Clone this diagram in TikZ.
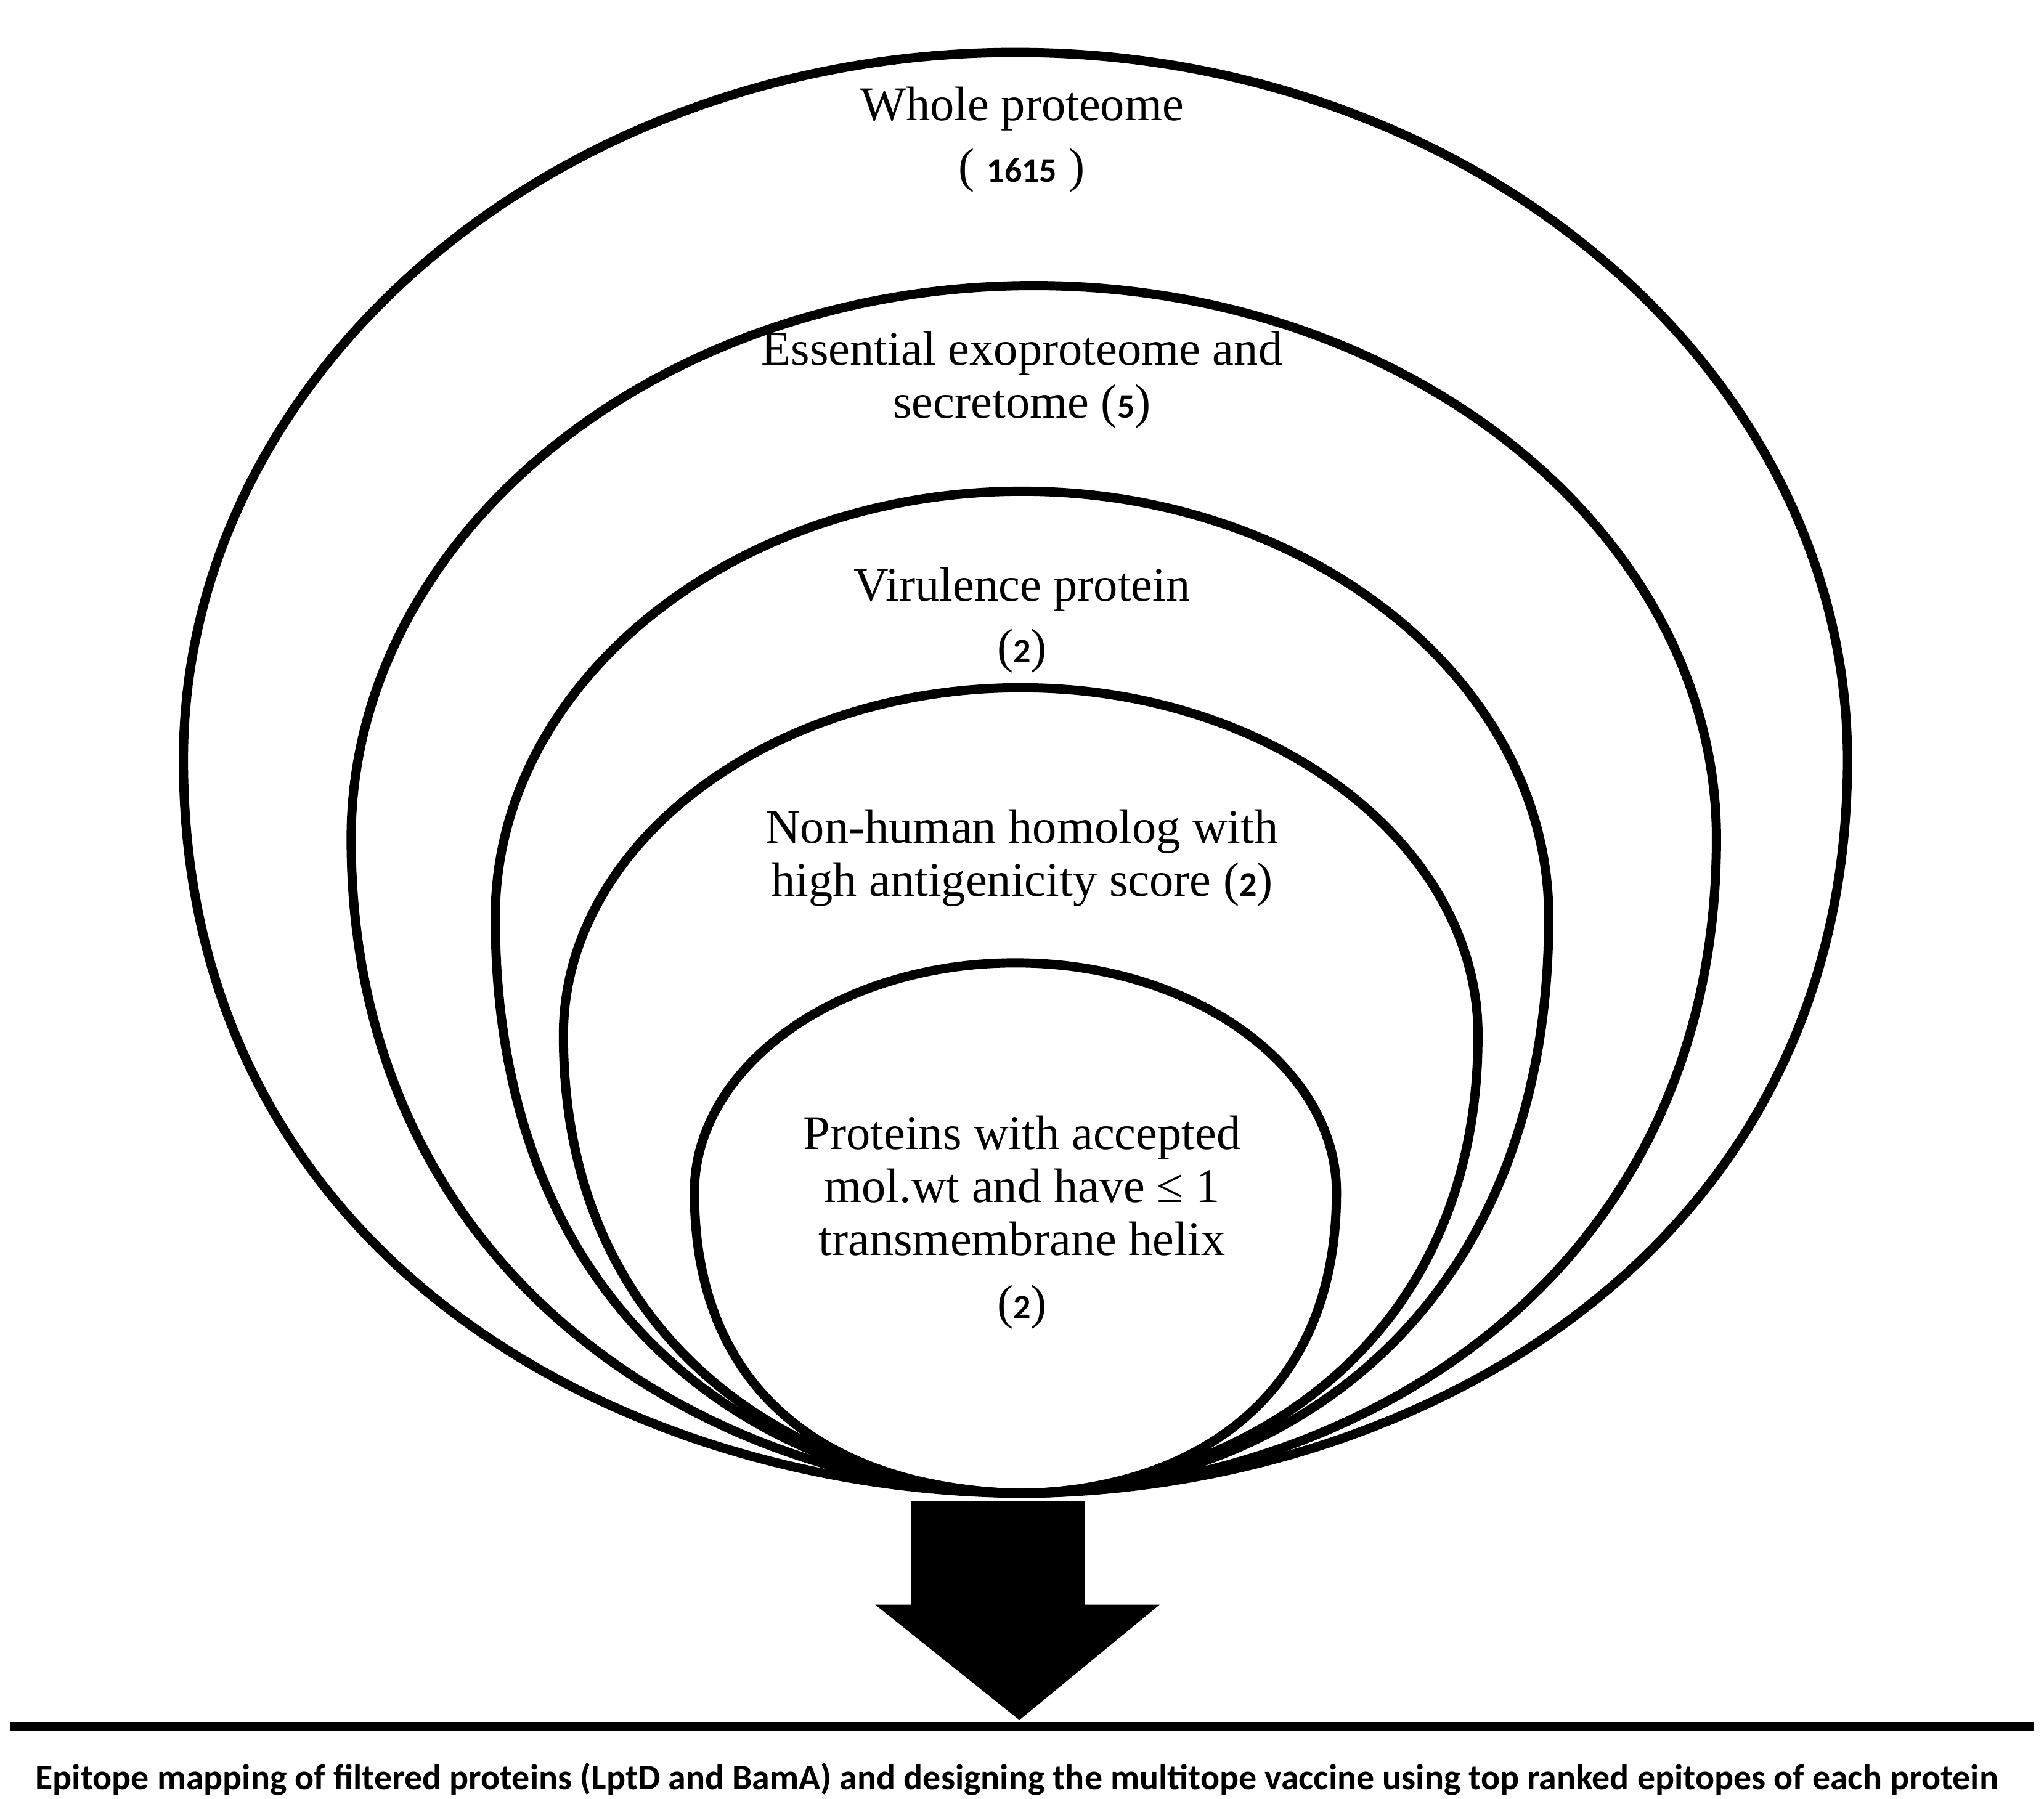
\documentclass[tikz,border=0pt]{standalone}
\usepackage{fontspec}
\setmainfont{Liberation Serif}
\newfontfamily\carlitofont{Carlito}
\begin{document}
\begin{tikzpicture}[x=0.02cm,y=-0.02cm,
  ring/.style={line width=4pt},
  lbl/.style={font=\fontsize{21}{23}\selectfont, align=center}]
\useasboundingbox (0,0) rectangle (1560,1373);
\fill[white] (0,0) rectangle (1560,1373);
\newcommand{\myegg}[6]{%
  \draw[ring] (780,1140) .. controls (#1-#6,1138) and (#1-#2,#5) .. (#1-#2,#4)
    .. controls (#1-#2,{#4-0.55*(#4-#3)}) and ({#1-0.55*#2},#3) .. (#1,#3)
    .. controls ({#1+0.55*#2},#3) and (#1+#2,{#4-0.55*(#4-#3)}) .. (#1+#2,#4)
    .. controls (#1+#2,#5) and (#1+#6,1138) .. (780,1140);}
\newcommand{\mynum}[1]{{\carlitofont\bfseries\fontsize{15}{18}\selectfont #1}}
\myegg{775}{635}{40}{580}{960}{300}
\myegg{789}{521}{218}{640}{980}{240}
\myegg{780}{402}{375}{700}{1010}{190}
\myegg{779}{349}{525}{790}{1040}{150}
\myegg{775}{245}{735}{910}{1080}{120}
\fill (695,1146) rectangle (828,1226);
\fill (668,1225) -- (885,1225) -- (778,1313) -- cycle;
\draw[line width=4pt] (8,1318) -- (1552,1318);
\node[lbl] (t1) at (780,83) {Whole proteome};
\node[lbl] (n1) at (780,130) {( \mynum{1615} )};
\node[lbl] (t2) at (780,290) {Essential exoproteome and\\secretome (\mynum{5})};
\node[lbl] (t3) at (780,450) {Virulence protein};
\node[lbl] (n3) at (780,497) {(\mynum{2})};
\node[lbl] (t4) at (780,655) {Non-human homolog with\\high antigenicity score (\mynum{2})};
\node[lbl] (t5) at (780,905) {Proteins with accepted\\mol.wt and have ≤ 1\\transmembrane helix};
\node[lbl] (n5) at (780,998) {(\mynum{2})};
\node[font=\carlitofont\bfseries\fontsize{15.5}{18}\selectfont] (cap) at (776,1358) {Epitope mapping of filtered proteins (LptD and BamA) and designing the multitope vaccine using top ranked epitopes of each protein};
\end{tikzpicture}
\end{document}
